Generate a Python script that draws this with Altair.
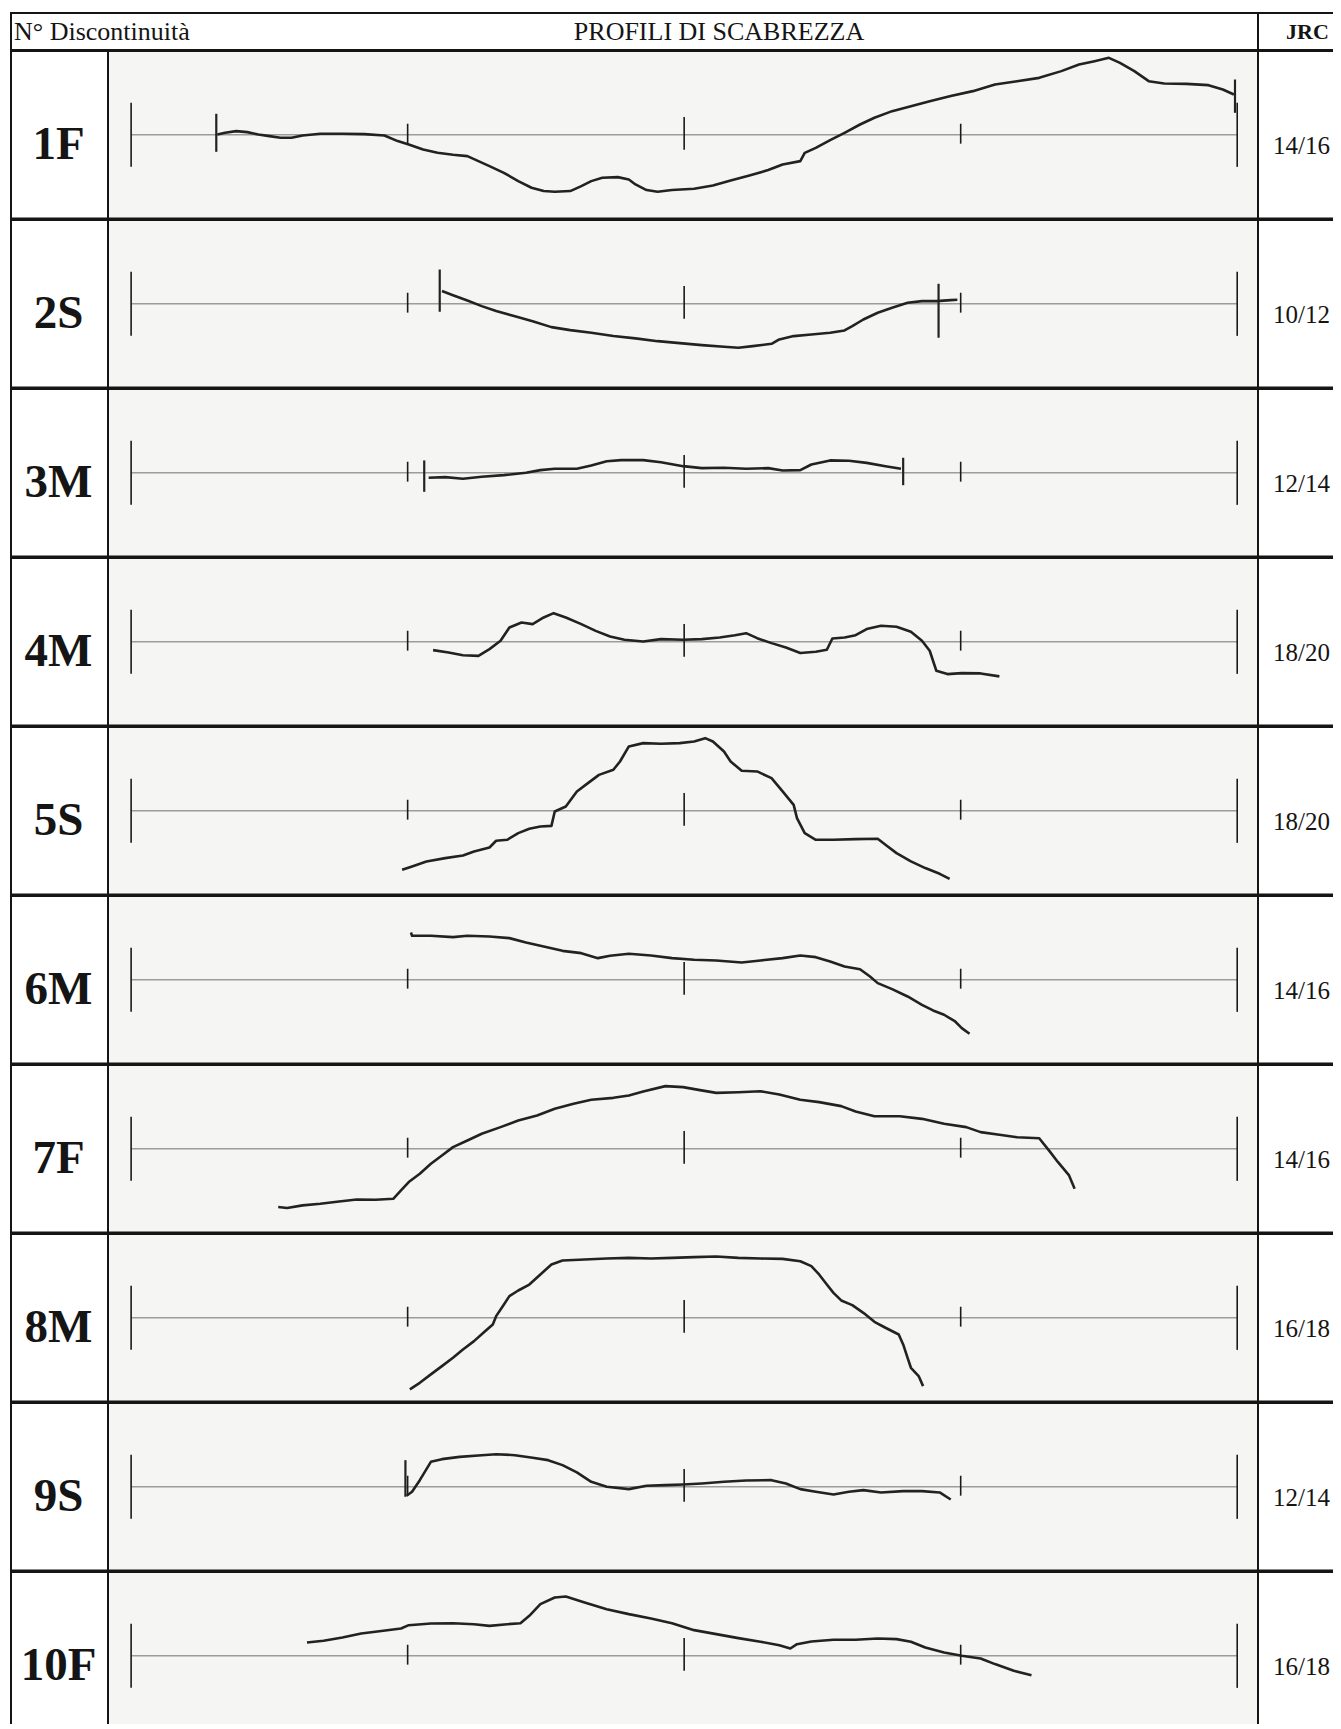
import altair as alt
import pandas as pd

# ---------------- data ----------------
HEADER_LEFT = "N° Discontinuità"
HEADER_MID = "PROFILI DI SCABREZZA"
HEADER_RIGHT = "JRC"

LABELS = ["1F", "2S", "3M", "4M", "5S", "6M", "7F", "8M", "9S", "10F"]
JRC = ["14/16", "10/12", "12/14", "18/20", "18/20", "14/16", "14/16", "16/18", "12/14", "16/18"]

# reference comb ticks (profile length 0..100)
TICK_X = [0, 25, 50, 75, 100]
TICK_TOP = [2.9, 1.0, 1.6, 1.0, 2.9]
TICK_BOTTOM = [-2.9, -0.8, -1.35, -0.8, -2.9]

P1_X = [7.8, 8.5, 9.5, 10.5, 11.5, 12.5, 13.5, 14.5, 15.5, 17.1, 19.1, 21.1, 22.9, 24.1, 25.1, 26.4, 27.7, 29.1, 30.4,
        31.4, 32.4, 33.7, 35.0, 36.2, 37.3, 38.3, 39.7, 40.7, 41.6, 42.6, 44.0, 45.0, 45.6, 46.6, 47.6, 48.9, 50.9,
        52.6, 54.2, 55.9, 57.6, 58.9, 60.5, 60.9, 61.9, 63.2, 64.5, 65.9, 67.2, 68.8, 70.5, 72.2, 74.1, 76.1, 78.1,
        80.1, 82.1, 84.1, 85.7, 87.1, 88.4, 89.4, 90.7, 92.0, 93.4, 95.4, 97.4, 98.7, 99.7]
P1_Y = [0.03, 0.18, 0.33, 0.24, 0.03, -0.12, -0.27, -0.27, -0.06, 0.09, 0.09, 0.06, -0.06, -0.57, -0.87, -1.33, -1.63,
        -1.81, -1.93, -2.38, -2.83, -3.44, -4.19, -4.79, -5.09, -5.15, -5.09, -4.64, -4.19, -3.89, -3.83, -4.04, -4.49,
        -5.00, -5.15, -5.00, -4.88, -4.58, -4.13, -3.68, -3.19, -2.68, -2.38, -1.63, -1.18, -0.48, 0.18, 0.93, 1.54,
        2.14, 2.59, 3.04, 3.50, 3.95, 4.55, 4.85, 5.15, 5.76, 6.36, 6.66, 6.96, 6.51, 5.76, 4.85, 4.64, 4.61, 4.49,
        4.10, 3.65]

P2_X = [28.1, 29.1, 30.4, 31.7, 33.0, 34.7, 36.3, 38.0, 39.7, 41.6, 43.6, 45.6, 47.6, 49.6, 51.6, 53.6, 54.9, 56.2,
        57.9, 58.6, 59.9, 61.5, 63.2, 64.5, 65.2, 66.2, 67.5, 68.8, 70.2, 71.5, 72.8, 74.1, 74.7]
P2_Y = [1.15, 0.78, 0.30, -0.21, -0.66, -1.12, -1.57, -2.11, -2.38, -2.62, -2.92, -3.13, -3.38, -3.56, -3.74, -3.89,
        -3.98, -3.83, -3.62, -3.22, -2.92, -2.77, -2.62, -2.41, -2.02, -1.42, -0.81, -0.36, 0.09, 0.24, 0.24, 0.33,
        0.36]

P3_X = [26.9, 28.4, 30.0, 31.7, 33.7, 35.7, 37.0, 38.3, 40.3, 41.6, 43.0, 44.3, 46.3, 47.9, 49.9, 51.6, 53.6, 55.6,
        57.6, 58.9, 60.5, 61.5, 63.2, 64.9, 66.5, 68.2, 69.6]
P3_Y = [-0.45, -0.39, -0.54, -0.36, -0.21, 0.00, 0.24, 0.36, 0.36, 0.66, 1.05, 1.15, 1.15, 0.96, 0.60, 0.42, 0.45,
        0.36, 0.42, 0.21, 0.24, 0.75, 1.12, 1.09, 0.90, 0.60, 0.36]

P4_X = [27.3, 28.7, 30.0, 31.4, 32.4, 33.4, 34.2, 35.3, 36.3, 37.3, 38.2, 39.3, 40.7, 42.0, 43.3, 44.6, 46.3, 47.9,
        49.9, 51.6, 53.2, 54.6, 55.6, 56.6, 57.9, 59.2, 60.5, 61.9, 62.9, 63.4, 64.5, 65.5, 66.5, 67.8, 69.2, 70.5,
        71.5, 72.2, 72.8, 73.8, 75.1, 76.8, 78.5]
P4_Y = [-0.75, -0.96, -1.21, -1.27, -0.66, 0.09, 1.30, 1.75, 1.60, 2.20, 2.59, 2.20, 1.60, 0.99, 0.48, 0.18, 0.03,
        0.24, 0.18, 0.24, 0.39, 0.60, 0.78, 0.33, -0.12, -0.51, -1.02, -0.90, -0.72, 0.30, 0.39, 0.60, 1.15, 1.45,
        1.36, 0.90, 0.09, -0.81, -2.62, -2.92, -2.83, -2.86, -3.13]

P5_X = [24.5, 25.4, 26.7, 28.4, 30.0, 31.0, 32.4, 33.0, 34.0, 35.0, 36.0, 37.0, 38.0, 38.3, 39.3, 40.3, 41.3, 42.3,
        43.6, 44.2, 45.0, 46.3, 47.9, 49.6, 50.9, 51.9, 52.6, 53.6, 54.2, 55.2, 56.6, 57.9, 58.9, 59.9, 60.2, 60.9,
        61.9, 63.5, 65.5, 67.5, 68.2, 69.2, 70.5, 71.8, 73.1, 74.0]
P5_Y = [-5.33, -5.03, -4.58, -4.28, -4.04, -3.68, -3.32, -2.71, -2.62, -2.02, -1.63, -1.42, -1.36, -0.06, 0.39, 1.75,
        2.50, 3.25, 3.71, 4.46, 5.82, 6.12, 6.06, 6.12, 6.27, 6.57, 6.27, 5.36, 4.46, 3.62, 3.56, 2.95, 1.75, 0.54,
        -0.66, -2.02, -2.62, -2.62, -2.56, -2.53, -3.07, -3.83, -4.58, -5.18, -5.70, -6.15]

P6_X = [25.3, 25.4, 27.1, 29.1, 30.4, 32.4, 34.2, 35.7, 37.3, 39.0, 40.7, 42.2, 43.3, 45.0, 47.0, 48.9, 50.9, 52.9,
        55.2, 56.9, 58.9, 60.5, 61.9, 63.2, 64.5, 65.9, 66.8, 67.5, 68.8, 70.2, 71.5, 72.5, 73.5, 74.5, 75.1, 75.8]
P6_Y = [4.28, 3.98, 3.98, 3.86, 3.98, 3.92, 3.77, 3.38, 3.01, 2.62, 2.41, 1.96, 2.17, 2.35, 2.20, 1.96, 1.81, 1.75,
        1.57, 1.75, 1.96, 2.20, 2.05, 1.66, 1.21, 0.96, 0.30, -0.30, -0.84, -1.51, -2.26, -2.77, -3.16, -3.77, -4.37,
        -4.88]

P7_X = [13.3, 14.1, 15.5, 17.1, 18.8, 20.4, 22.1, 23.7, 24.4, 25.1, 26.1, 27.1, 28.1, 29.1, 30.4, 31.7, 33.4, 35.0,
        36.7, 38.3, 40.0, 41.6, 43.6, 45.0, 46.3, 48.3, 49.9, 51.3, 52.9, 54.9, 56.9, 58.6, 60.5, 62.2, 64.2, 65.5,
        67.2, 69.5, 71.5, 73.5, 75.5, 76.8, 78.5, 80.1, 82.1, 83.1, 83.8, 84.8, 85.3]
P7_Y = [-5.27, -5.36, -5.12, -4.97, -4.76, -4.58, -4.61, -4.52, -3.77, -3.01, -2.26, -1.36, -0.60, 0.15, 0.75, 1.36,
        1.96, 2.56, 3.01, 3.62, 4.07, 4.43, 4.61, 4.82, 5.18, 5.67, 5.58, 5.33, 5.06, 5.12, 5.21, 4.91, 4.43, 4.22,
        3.86, 3.38, 2.95, 2.95, 2.71, 2.26, 1.96, 1.51, 1.27, 1.05, 0.96, -0.30, -1.21, -2.41, -3.62]

P8_X = [25.2, 26.1, 27.1, 28.1, 29.1, 30.0, 31.0, 32.0, 32.7, 33.0, 33.6, 34.2, 35.0, 36.0, 37.0, 38.0, 39.0, 41.0,
        43.0, 45.0, 47.0, 48.9, 50.9, 52.9, 54.9, 56.9, 58.9, 60.5, 61.5, 62.2, 62.9, 63.5, 64.2, 65.2, 66.2, 67.2,
        68.2, 69.4, 69.8, 70.2, 70.5, 71.2, 71.6]
P8_Y = [-6.48, -5.88, -5.12, -4.37, -3.62, -2.86, -2.11, -1.21, -0.60, 0.15, 1.05, 1.96, 2.47, 3.01, 3.92, 4.82, 5.18,
        5.27, 5.36, 5.42, 5.36, 5.42, 5.49, 5.55, 5.42, 5.36, 5.33, 5.12, 4.67, 3.92, 3.01, 2.26, 1.57, 1.15, 0.45,
        -0.36, -0.90, -1.51, -2.41, -3.62, -4.52, -5.27, -6.18]

P9_X = [24.9, 25.4, 26.1, 27.1, 28.1, 29.7, 31.7, 33.0, 34.7, 36.3, 37.7, 39.0, 40.3, 41.6, 43.0, 45.0, 46.6, 48.3,
        49.9, 51.6, 53.6, 55.6, 57.9, 59.2, 60.5, 61.9, 63.5, 64.9, 66.2, 67.8, 69.8, 71.5, 73.1, 74.1]
P9_Y = [-0.81, -0.45, 0.60, 2.26, 2.50, 2.71, 2.86, 2.95, 2.86, 2.62, 2.41, 1.96, 1.30, 0.45, 0.00, -0.21, 0.09, 0.15,
        0.21, 0.30, 0.45, 0.57, 0.60, 0.30, -0.21, -0.45, -0.69, -0.45, -0.30, -0.51, -0.39, -0.39, -0.51, -1.15]

P10_X = [15.9, 17.4, 19.1, 20.8, 22.8, 24.4, 25.1, 27.1, 29.1, 31.0, 32.4, 34.0, 35.2, 36.0, 37.0, 38.3, 39.3, 41.0,
         43.0, 45.0, 47.0, 48.9, 50.9, 52.9, 54.9, 56.9, 58.6, 59.6, 60.2, 61.5, 63.5, 65.5, 67.5, 69.2, 70.5, 71.8,
         73.5, 75.1, 76.8, 78.1, 79.8, 81.4]
P10_Y = [1.21, 1.36, 1.66, 2.02, 2.26, 2.47, 2.77, 2.92, 2.95, 2.86, 2.71, 2.86, 2.95, 3.62, 4.67, 5.27, 5.36, 4.82,
         4.22, 3.77, 3.38, 2.95, 2.32, 1.96, 1.60, 1.27, 0.96, 0.66, 1.05, 1.30, 1.45, 1.45, 1.57, 1.51, 1.27, 0.75,
         0.30, 0.00, -0.24, -0.75, -1.36, -1.75]

# pen marks at the ends of some profiles
MARK_ROW = [1, 1, 2, 2, 3, 3, 9]
MARK_X = [7.7, 99.8, 27.9, 73.0, 26.5, 69.8, 24.8]
MARK_Y1 = [1.90, 5.00, 3.10, 1.81, 1.12, 1.36, 2.41]
MARK_Y2 = [-1.54, 1.99, -0.72, -3.07, -1.72, -1.12, -0.90]

PROFILES = [(P1_X, P1_Y), (P2_X, P2_Y), (P3_X, P3_Y), (P4_X, P4_Y), (P5_X, P5_Y),
            (P6_X, P6_Y), (P7_X, P7_Y), (P8_X, P8_Y), (P9_X, P9_Y), (P10_X, P10_Y)]

# ---------------- layout ----------------
W_LEFT, W_MID, W_RIGHT = 97, 1150, 95
H_HEAD, H_ROW = 37, 167.6
X_DOMAIN = [-2.09, 101.88]
Y_DOMAIN = [-7.58, 7.58]
FONT = "Liberation Serif"
INK = "#151515"
CELL = alt.ViewBackground(fill="white", stroke=INK, strokeWidth=2)
PANEL = alt.ViewBackground(fill="#f5f5f4", stroke=INK, strokeWidth=2)

xs = alt.Scale(domain=X_DOMAIN, nice=False, zero=False)
ys = alt.Scale(domain=Y_DOMAIN, nice=False, zero=False)


def text_cell(text, width, height, size, weight="normal", dy=0, dx=0):
    return alt.Chart(pd.DataFrame({"t": [text]})).mark_text(
        font=FONT, fontSize=size, fontWeight=weight, color=INK, dy=dy, dx=dx
    ).encode(text="t:N").properties(width=width, height=height, view=CELL)


def profile_cell(i):
    px, py = PROFILES[i]
    prof = pd.DataFrame({"x": px, "y": py, "k": list(range(len(px)))})
    ticks = pd.DataFrame({"x": TICK_X, "top": TICK_TOP, "bottom": TICK_BOTTOM})
    base = pd.DataFrame({"x": [TICK_X[0]], "x2": [TICK_X[-1]], "y": [0]})

    baseline = alt.Chart(base).mark_rule(color="#9c9c9c", strokeWidth=1.6).encode(
        x=alt.X("x:Q", scale=xs, axis=None), x2="x2:Q",
        y=alt.Y("y:Q", scale=ys, axis=None))
    tick = alt.Chart(ticks).mark_rule(color="#1a1a1a", strokeWidth=1.6).encode(
        x=alt.X("x:Q", scale=xs, axis=None),
        y=alt.Y("top:Q", scale=ys, axis=None), y2="bottom:Q")
    line = alt.Chart(prof).mark_line(color="#222222", strokeWidth=2.6, clip=True,
                                     strokeJoin="round").encode(
        x=alt.X("x:Q", scale=xs, axis=None),
        y=alt.Y("y:Q", scale=ys, axis=None), order="k:Q")
    layers = [baseline, tick, line]

    sel = [j for j, r in enumerate(MARK_ROW) if r == i + 1]
    if sel:
        mk = pd.DataFrame({"x": [MARK_X[j] for j in sel],
                           "y1": [MARK_Y1[j] for j in sel],
                           "y2": [MARK_Y2[j] for j in sel]})
        layers.append(alt.Chart(mk).mark_rule(color="#222222", strokeWidth=2.2).encode(
            x=alt.X("x:Q", scale=xs, axis=None),
            y=alt.Y("y1:Q", scale=ys, axis=None), y2="y2:Q"))

    return alt.layer(*layers).properties(width=W_MID, height=H_ROW, view=PANEL)


# header
hdr_left = alt.layer(
    alt.Chart(pd.DataFrame({"t": [HEADER_LEFT]})).mark_text(
        font=FONT, fontSize=26, color=INK, align="left").encode(
        text="t:N", x=alt.value(3)),
    alt.Chart(pd.DataFrame({"t": [HEADER_MID]})).mark_text(
        font=FONT, fontSize=26, color=INK).encode(
        text="t:N", x=alt.value(708)),
).properties(width=W_LEFT + W_MID, height=H_HEAD, view=CELL)
hdr_right = text_cell(HEADER_RIGHT, W_RIGHT, H_HEAD, 22, weight="bold", dx=2)
header = alt.hconcat(hdr_left, hdr_right, spacing=0, bounds="flush")

rows = [header]
for i in range(len(LABELS)):
    rows.append(alt.hconcat(
        text_cell(LABELS[i], W_LEFT, H_ROW, 47, weight="bold", dy=10, dx=-1),
        profile_cell(i),
        text_cell(JRC[i], W_RIGHT, H_ROW, 25, dy=11, dx=-4),
        spacing=0, bounds="flush"))

# the scanned sheet is cropped on the right and at the bottom: negative padding
# trims the drawing at the page edge the same way
chart = alt.vconcat(*rows, spacing=-2).properties(
    padding={"left": 2, "top": 4, "right": -21, "bottom": -17},
    background="white",
).configure_view(stroke=INK, strokeWidth=2, fill="white")

chart.save("out.html", embed_options={"renderer": "svg", "actions": False})
